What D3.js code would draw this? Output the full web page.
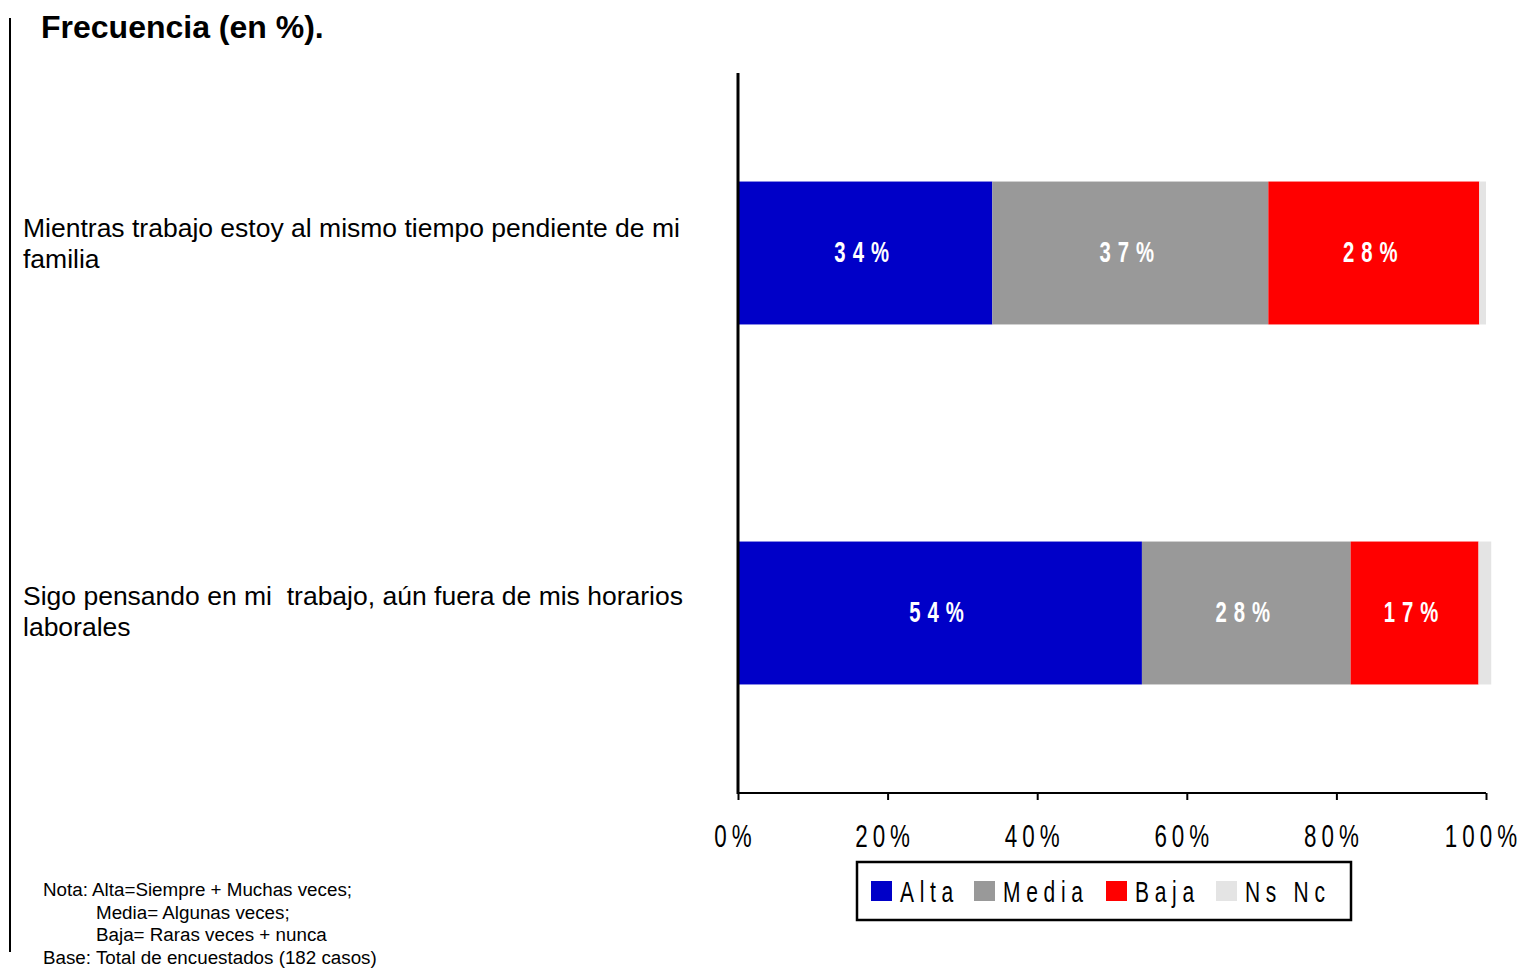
<!DOCTYPE html>
<html><head><meta charset="utf-8">
<script src="https://cdn.jsdelivr.net/npm/d3@7"></script>
<style>
body{margin:0;background:#fff;}
svg{display:block;}
text{white-space:pre;}
</style></head>
<body>
<svg id="chart" width="1522" height="968"></svg>
<script>
const categories = [
  ["Mientras trabajo estoy al mismo tiempo pendiente de mi", "familia"],
  ["Sigo pensando en mi  trabajo, aún fuera de mis horarios", "laborales"]
];
const seriesNames = ["Alta", "Media", "Baja", "Ns Nc"];
const alta  = [34.0, 54.0];
const media = [36.9, 27.9];
const baja  = [28.2, 17.1];
const nsnc  = [0.9, 1.7];
const labels = [["34%","37%","28%",""],["54%","28%","17%",""]];
const ticks = [0, 20, 40, 60, 80, 100];
const tickLabels = ["0%", "20%", "40%", "60%", "80%", "100%"];
const colors = ["#0000C8", "#999999", "#FF0000", "#E4E4E4"];
const noteLines = ["Nota: Alta=Siempre + Muchas veces;", "Media= Algunas veces;", "Baja= Raras veces + nunca", "Base: Total de encuestados (182 casos)"];

const SANS = "Liberation Sans, Arial, Helvetica, sans-serif";
const NARROW = 0.7;

const svg = d3.select("#chart");
const x = d3.scaleLinear().domain([0, 100]).range([738, 1486]);
const y = d3.scaleBand().domain([0, 1]).range([73, 793]).paddingInner(0.603).paddingOuter(0.3015);
const labelY = d3.scaleLinear().domain([0, 1]).range([237, 605]);

const rows = [alta, media, baja, nsnc];
const data = categories.map((c, i) => {
  let acc = 0;
  return rows.map((r, k) => { const d = {i, k, x0: acc, x1: acc + r[i], label: labels[i][k]}; acc += r[i]; return d; });
});

// left page line
svg.append("line").attr("x1", 10).attr("x2", 10).attr("y1", 18).attr("y2", 952)
  .attr("stroke", "#000").attr("stroke-width", 2);

// title
svg.append("text").attr("x", 41).attr("y", 38).text("Frecuencia (en %).")
  .attr("font-family", SANS).attr("font-weight", "bold").attr("font-size", 32);

// narrow text helper
function narrowText(sel, cx, cy, txt, size, spacing, anchor) {
  return sel.append("text")
    .attr("transform", `translate(${cx},${cy}) scale(${NARROW},1)`)
    .attr("text-anchor", anchor || "middle")
    .attr("font-family", SANS).attr("font-size", size)
    .attr("letter-spacing", spacing / NARROW)
    .text(txt);
}

// bars
const g = svg.append("g");
data.forEach(row => {
  g.selectAll(null).data(row).enter().append("rect")
    .attr("x", d => x(d.x0)).attr("width", d => x(d.x1) - x(d.x0))
    .attr("y", d => y(d.i)).attr("height", y.bandwidth())
    .attr("fill", d => colors[d.k]);
  row.filter(d => d.label).forEach(d => {
    narrowText(g, (x(d.x0) + x(d.x1)) / 2, y(d.i) + y.bandwidth() / 2 + 8.5, d.label, 29, 7)
      .attr("fill", "#fff").attr("font-weight", "bold");
  });
});

// category labels
categories.forEach((c, i) => {
  const t = svg.append("text").attr("font-family", SANS).attr("font-size", 26.5).attr("fill", "#000");
  c.forEach((line, j) => {
    t.append("tspan").attr("x", 23).attr("y", labelY(i) + j * 31).text(line);
  });
});

// axes
const axisG = svg.append("g").attr("transform", "translate(0,793)");
axisG.call(d3.axisBottom(x).tickValues(ticks).tickSize(7).tickFormat((d, i) => tickLabels[i]));
axisG.select(".domain").attr("stroke", "#000").attr("stroke-width", 2).attr("d", `M${x(0)},0H${x(100)}`);
axisG.selectAll(".tick line").attr("stroke", "#000").attr("stroke-width", 2);
axisG.selectAll(".tick text").attr("y", 0).attr("dy", 0)
  .attr("transform", `translate(-3,54) scale(${NARROW},1)`)
  .attr("fill", "#000").attr("font-family", SANS).attr("font-size", 32)
  .attr("letter-spacing", 5 / NARROW);

svg.append("line").attr("x1", x(0)).attr("x2", x(0)).attr("y1", 73).attr("y2", 794)
  .attr("stroke", "#000").attr("stroke-width", 3);

// legend
const lg = svg.append("g");
lg.append("rect").attr("x", 857).attr("y", 862).attr("width", 494).attr("height", 58)
  .attr("fill", "#fff").attr("stroke", "#000").attr("stroke-width", 2.5);
const legX = [871, 974, 1106, 1216];
seriesNames.forEach((s, k) => {
  lg.append("rect").attr("x", legX[k]).attr("y", 881).attr("width", 21).attr("height", 20).attr("fill", colors[k]);
  narrowText(lg, legX[k] + 29, 902, s, 30, 5.7, "start").attr("fill", "#000");
});

// notes
const noteX = [43, 96, 96, 43];
noteLines.forEach((n, j) => {
  svg.append("text").attr("x", noteX[j]).attr("y", 896 + j * 22.7).text(n)
    .attr("font-family", SANS).attr("font-size", 18.8);
});
</script>
</body></html>
